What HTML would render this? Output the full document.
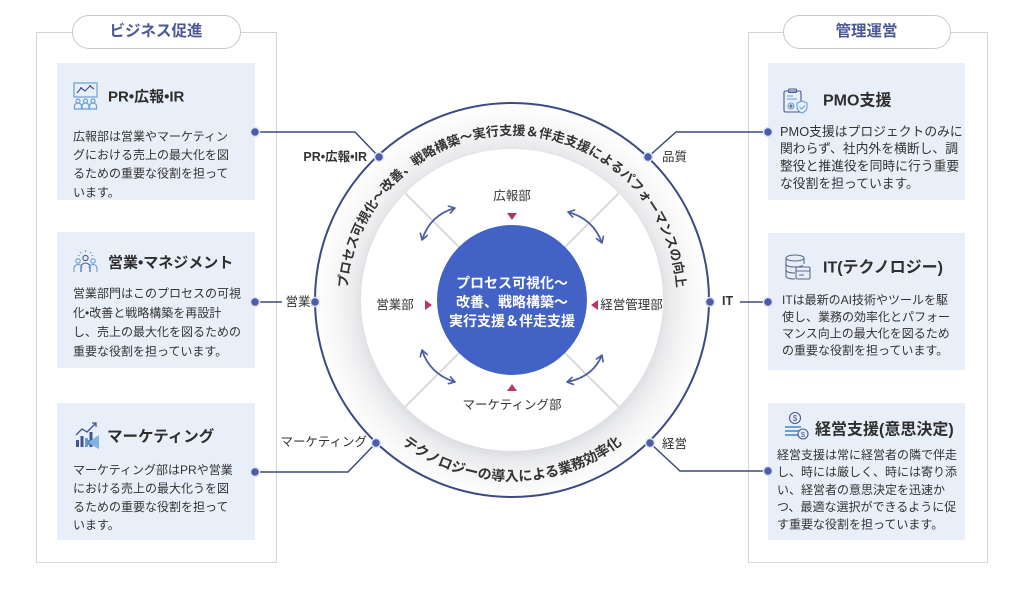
<!DOCTYPE html>
<html><head><meta charset="utf-8">
<style>
*{margin:0;padding:0;box-sizing:border-box}
html,body{width:1024px;height:589px;background:#fff;overflow:hidden}
body{position:relative;font-family:"Liberation Sans","Noto Sans CJK JP",sans-serif;color:#333}
svg{position:absolute;left:0;top:0}
text{font-family:"Liberation Sans","Noto Sans CJK JP",sans-serif}
</style></head><body>
<svg width="1024" height="589" viewBox="0 0 1024 589" xmlns="http://www.w3.org/2000/svg">
<defs>
  <radialGradient id="rg" cx="512" cy="303" r="197" gradientUnits="userSpaceOnUse">
    <stop offset="0.76" stop-color="#dedfe2"/>
    <stop offset="0.80" stop-color="#e9eaec"/>
    <stop offset="0.88" stop-color="#f5f5f6"/>
    <stop offset="1" stop-color="#fefefe"/>
  </radialGradient>
  <marker id="ah" viewBox="0 0 10 10" refX="8" refY="5" markerWidth="9" markerHeight="9" markerUnits="userSpaceOnUse" orient="auto-start-reverse">
    <polyline points="1.5,1 8,5 1.5,9" fill="none" stroke="#4d5f9c" stroke-width="1.8" stroke-linecap="round" stroke-linejoin="round"/>
  </marker>
  <path id="topArc" d="M349.5,328.65 A165,165 0 1 1 674.5,328.65"/>
  <path id="botArc" d="M333.75,331.4 A181,181 0 0 0 690.25,331.4"/>
</defs>

<!-- Panels -->
<rect x="36.5" y="32.5" width="240" height="530" fill="none" stroke="#d4d4d4"/>
<rect x="748.5" y="32.5" width="239" height="530" fill="none" stroke="#d4d4d4"/>
<rect x="72.5" y="15.5" width="168" height="33" rx="16.5" fill="#fff" stroke="#c8c8c8"/>
<rect x="783.5" y="15.5" width="167" height="33" rx="16.5" fill="#fff" stroke="#c8c8c8"/>
<text x="156" y="31.5" font-size="15.5" font-weight="bold" fill="#4a5896" text-anchor="middle" dominant-baseline="central">ビジネス促進</text>
<text x="866.5" y="31.5" font-size="15.5" font-weight="bold" fill="#4a5896" text-anchor="middle" dominant-baseline="central">管理運営</text>

<!-- Cards -->
<rect x="57" y="63" width="198" height="137" fill="#e9eff8"/>
<rect x="57" y="232" width="198" height="136" fill="#e9eff8"/>
<rect x="57" y="403" width="198" height="137" fill="#e9eff8"/>
<rect x="768" y="63" width="197" height="137" fill="#e9eff8"/>
<rect x="768" y="233" width="197" height="137" fill="#e9eff8"/>
<rect x="768" y="403" width="197" height="137" fill="#e9eff8"/>

<!-- Card titles -->
<g font-weight="bold" fill="#2e2e2e" dominant-baseline="central">
  <text x="108" y="97" font-size="15">PR•広報•IR</text>
  <text x="108" y="263" font-size="15">営業•マネジメント</text>
  <text x="107" y="437" font-size="15.5">マーケティング</text>
  <text x="823" y="101" font-size="16">PMO支援</text>
  <text x="823" y="268" font-size="16">IT(テクノロジー)</text>
  <text x="815" y="430" font-size="16">経営支援(意思決定)</text>
</g>

<!-- Card bodies -->
<g font-size="12" fill="#333" dominant-baseline="central">
  <text x="73" y="136.5">広報部は営業やマーケティン</text>
  <text x="73" y="155">グにおける売上の最大化を図</text>
  <text x="73" y="173.5">るための重要な役割を担って</text>
  <text x="73" y="192.5">います。</text>

  <text x="73" y="293.5">営業部門はこのプロセスの可視</text>
  <text x="73" y="313">化•改善と戦略構築を再設計</text>
  <text x="73" y="332">し、売上の最大化を図るための</text>
  <text x="73" y="351.5">重要な役割を担っています。</text>

  <text x="73" y="470">マーケティング部はPRや営業</text>
  <text x="73" y="488.5">における売上の最大化うを図</text>
  <text x="73" y="507">るための重要な役割を担って</text>
  <text x="73" y="525">います。</text>

  <g font-size="12.8">
  <text x="780" y="131.5">PMO支援はプロジェクトのみに</text>
  <text x="780" y="148.5">関わらず、社内外を横断し、調</text>
  <text x="780" y="166">整役と推進役を同時に行う重要</text>
  <text x="780" y="183.5">な役割を担っています。</text>
  </g>

  <text x="782" y="300">ITは最新のAI技術やツールを駆</text>
  <text x="782" y="317">使し、業務の効率化とパフォー</text>
  <text x="782" y="333.5">マンス向上の最大化を図るため</text>
  <text x="782" y="350.5">の重要な役割を担っています。</text>

  <text x="777" y="455">経営支援は常に経営者の隣で伴走</text>
  <text x="777" y="472">し、時には厳しく、時には寄り添</text>
  <text x="777" y="490">い、経営者の意思決定を迅速か</text>
  <text x="777" y="507">つ、最適な選択ができるように促</text>
  <text x="777" y="524.5">す重要な役割を担っています。</text>
</g>

<!-- Icons -->
<g fill="none" stroke-width="1.2">
  <rect x="74" y="83" width="23" height="14" stroke="#6a9fd6"/>
  <polyline points="77,93 81,88 85,91 90,86 94,89" stroke="#3f5590"/>
  <circle cx="81" cy="88" r="1" fill="#3f5590" stroke="none"/>
  <circle cx="90" cy="86" r="1" fill="#3f5590" stroke="none"/>
  <g stroke="#6a9fd6">
    <circle cx="78" cy="101" r="2"/><path d="M74.5,109 v-3 a3.5,3 0 0 1 7,0 v3 z"/>
    <circle cx="85.5" cy="101" r="2"/><path d="M82,109 v-3 a3.5,3 0 0 1 7,0 v3 z"/>
    <circle cx="93" cy="101" r="2"/><path d="M89.5,109 v-3 a3.5,3 0 0 1 7,0 v3 z"/>
  </g>
</g>
<g fill="none" stroke="#4a5a8e" stroke-width="1.1">
  <circle cx="85.5" cy="258" r="2.6"/>
  <path d="M81,272 v-5 a4.5,4 0 0 1 9,0 v5"/>
  <circle cx="78" cy="261" r="2.2" stroke="#6a9fd6"/>
  <path d="M74,272 v-4 a4,3.5 0 0 1 8,0" stroke="#6a9fd6"/>
  <circle cx="93" cy="261" r="2.2" stroke="#6a9fd6"/>
  <path d="M89,268 a4,3.5 0 0 1 8,0 v4" stroke="#6a9fd6"/>
  <path d="M85.5,250 v2 M80,252 l1.2,1.2 M91,252 l-1.2,1.2 M78,255.5 h1.5 M93,255.5 h-1.5" stroke="#6a9fd6"/>
</g>
<g>
  <polyline points="76,435 82,429 87,432 96,423" fill="none" stroke="#3f5590" stroke-width="1.3"/>
  <polyline points="92,423 96,423 96,427" fill="none" stroke="#3f5590" stroke-width="1.3"/>
  <rect x="76" y="440" width="3" height="7" fill="#3f5590"/>
  <rect x="80.5" y="436" width="3" height="11" fill="#3f5590"/>
  <rect x="85" y="438" width="3" height="9" fill="#6a9fd6"/>
  <rect x="89.5" y="432" width="3" height="15" fill="#3f5590"/>
  <path d="M90,441 l9,-6 v14 l-9,-5 z" fill="#7fb3e0"/>
  <rect x="87" y="440" width="3" height="5" fill="#5a8cc8"/>
</g>
<g fill="none" stroke="#4a5a8e" stroke-width="1.1">
  <rect x="784" y="91" width="17" height="21" rx="1.5"/>
  <rect x="788.5" y="89" width="8" height="3.5" rx="1"/>
  <path d="M787,96 h6 M787,99 h10" stroke="#6a9fd6"/>
  <circle cx="791" cy="106" r="3" stroke="#6a9fd6"/>
  <circle cx="791" cy="106" r="1"/>
  <path d="M802,101 l5,2 v4 c0,3 -2.5,5 -5,6 c-2.5,-1 -5,-3 -5,-6 v-4 z" fill="#e9eff8" stroke="#6a9fd6"/>
  <path d="M799.5,107 l2,2 l3.5,-3.5" stroke="#6a9fd6"/>
</g>
<g fill="none" stroke="#5a6a96" stroke-width="1.1">
  <ellipse cx="795" cy="258" rx="9" ry="3"/>
  <path d="M786,258 v18 c0,2 4,3 9,3 M804,258 v6"/>
  <path d="M786,264 c0,2 4,3 9,3 c3,0 6,-0.5 8,-1.5 M786,270 c0,2 4,3 9,3"/>
  <rect x="796" y="267" width="14" height="12" rx="1.5" fill="#e9eff8"/>
  <path d="M796,271 h14 M799,275 h5"/>
</g>
<g fill="none" stroke="#4a5a8e" stroke-width="1.1">
  <circle cx="795" cy="418" r="5.5"/>
  <text x="795" y="418.5" font-size="8" fill="#4a5a8e" stroke="none" text-anchor="middle" dominant-baseline="central">$</text>
  <path d="M785,427 h16 M785,431 h14 M785,435 h14" stroke="#6a9fd6" stroke-width="2"/>
  <circle cx="803" cy="434" r="5" fill="#e9eff8"/>
  <text x="803" y="434.5" font-size="7.5" fill="#4a5a8e" stroke="none" text-anchor="middle" dominant-baseline="central">$</text>
</g>

<!-- Ring -->
<circle cx="512" cy="300" r="197" fill="url(#rg)" stroke="#3c4a84" stroke-width="2"/>
<circle cx="512" cy="300" r="151" fill="#fff"/>

<!-- Spokes -->
<g stroke="#d0d0d0" stroke-width="1.5">
  <line x1="405.2" y1="193.2" x2="459" y2="247"/>
  <line x1="618.8" y1="193.2" x2="565" y2="247"/>
  <line x1="405.2" y1="406.8" x2="459" y2="353"/>
  <line x1="618.8" y1="406.8" x2="565" y2="353"/>
</g>

<!-- Center circle -->
<circle cx="512" cy="300" r="75" fill="#4262c5"/>
<g font-size="14" font-weight="bold" fill="#fff" text-anchor="middle" dominant-baseline="central">
  <text x="512" y="283">プロセス可視化～</text>
  <text x="512" y="302">改善、戦略構築～</text>
  <text x="512" y="321">実行支援＆伴走支援</text>
</g>

<!-- Ring text -->
<text font-size="13" font-weight="bold" fill="#333"><textPath href="#topArc" startOffset="50%" text-anchor="middle">プロセス可視化～改善、戦略構築～実行支援＆伴走支援によるパフォーマンスの向上</textPath></text>
<text font-size="14" font-weight="bold" fill="#333"><textPath href="#botArc" startOffset="50%" text-anchor="middle">テクノロジーの導入による業務効率化</textPath></text>

<!-- Curved arrows -->
<g fill="none" stroke="#4d5f9c" stroke-width="1.8" marker-start="url(#ah)" marker-end="url(#ah)">
  <path d="M422,240 Q430,215 455,208"/>
  <path d="M568,212 Q593.5,219 602,243"/>
  <path d="M567,382 Q593,377 602,355"/>
  <path d="M422,350 Q429.6,374 455,382"/>
</g>

<!-- Dept labels & triangles -->
<g font-size="12.5" fill="#333" text-anchor="middle" dominant-baseline="central">
  <text x="512" y="196">広報部</text>
  <text x="395" y="305">営業部</text>
  <text x="631.5" y="305">経営管理部</text>
  <text x="512" y="405">マーケティング部</text>
</g>
<g fill="#b8365f">
  <polygon points="507,213 517,213 512,220"/>
  <polygon points="425,300 425,310 432,305"/>
  <polygon points="598,300 598,310 591,305"/>
  <polygon points="507,391 517,391 512,384"/>
</g>

<!-- Connectors -->
<g fill="none" stroke="#3d4a7e" stroke-width="1.5">
  <polyline points="255,132 355,132 379,157"/>
  <line x1="255" y1="302" x2="282" y2="302"/>
  <polyline points="255,472 348,472 376,443"/>
  <polyline points="648,157 676,132 768,132"/>
  <line x1="740" y1="302" x2="768" y2="302"/>
  <polyline points="650,443 680,471 768,471"/>
</g>
<g fill="#4b5ca8" stroke="#dfe4f3" stroke-width="1.5">
  <circle cx="255" cy="132" r="4.5"/>
  <circle cx="379" cy="157" r="4.5"/>
  <circle cx="255" cy="302" r="4.5"/>
  <circle cx="315" cy="302" r="4.5"/>
  <circle cx="255" cy="472" r="4.5"/>
  <circle cx="376" cy="443" r="4.5"/>
  <circle cx="648" cy="157" r="4.5"/>
  <circle cx="768" cy="132" r="4.5"/>
  <circle cx="710" cy="302" r="4.5"/>
  <circle cx="768" cy="302" r="4.5"/>
  <circle cx="650" cy="443" r="4.5"/>
  <circle cx="768" cy="471" r="4.5"/>
</g>
<g font-size="12.5" fill="#333" dominant-baseline="central">
  <text x="367" y="157" text-anchor="end" font-weight="bold">PR•広報•IR</text>
  <text x="298" y="302" text-anchor="middle">営業</text>
  <text x="367" y="442" text-anchor="end">マーケティング</text>
  <text x="662" y="157">品質</text>
  <text x="722" y="301" font-weight="bold">IT</text>
  <text x="662" y="444">経営</text>
</g>
</svg>
</body></html>
